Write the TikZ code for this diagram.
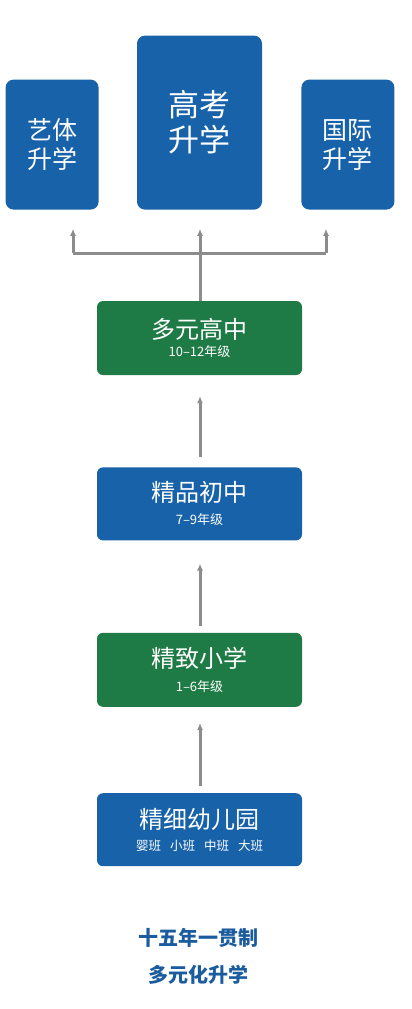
\documentclass[tikz,border=0pt]{standalone}
\usepackage{fontspec}
\setmainfont{Noto Sans CJK SC}
\usetikzlibrary{positioning, arrows.meta}

\definecolor{schoolblue}{HTML}{1762A9}
\definecolor{schoolgreen}{HTML}{1E7B45}
\definecolor{linkgray}{HTML}{8C8C8C}
\definecolor{titleblue}{HTML}{1B5C9E}

\begin{document}
\begin{tikzpicture}[
        x=1pt, y=-1pt,
        node distance=92pt,
        stage/.style={
          align=center, text=white, rounded corners=6pt, inner sep=0pt, minimum width=205pt, minimum height=74pt
        },
        goal/.style={
          align=center, text=white, fill=schoolblue, rounded corners=8pt, inner sep=0pt, minimum width=93pt, minimum height=130pt,
          font=\fontsize{25}{29}\selectfont
        },
        link/.style={
          draw=linkgray, line width=3pt
        },
        >={Latex[length=7pt,width=6pt]},
      ]
        \useasboundingbox (0,0) rectangle (412,1009);

        % stages
        \node [stage, fill=schoolgreen] (high) at (199.5,338) {{\fontsize{24}{26}\selectfont 多元高中}\\[4pt]{\fontsize{13}{15}\selectfont 10–12年级}};
        \node [stage, fill=schoolblue, minimum height=73pt, below=of high] (middle) {{\fontsize{24}{26}\selectfont 精品初中}\\[9pt]{\fontsize{13}{15}\selectfont 7–9年级}};
        \node [stage, fill=schoolgreen, below=of middle] (primary) {{\fontsize{24}{26}\selectfont 精致小学}\\[10pt]{\fontsize{13}{15}\selectfont 1–6年级}};
        \node [stage, fill=schoolblue, minimum height=73pt, below=86pt of primary] (kinder) {{\fontsize{24}{26}\selectfont 精细幼儿园}\\[8pt]{\fontsize{12.5}{14}\selectfont 婴班\hspace{9pt}小班\hspace{9pt}中班\hspace{9pt}大班}};

        % goals
        \node [goal, minimum width=125pt, minimum height=174pt, above=91pt of high, font=\fontsize{31}{35}\selectfont] (gaokao) {高考\\升学};
        \node [goal, left=38pt of gaokao.south west, anchor=south east] (art) {艺体\\升学};
        \node [goal, right=39pt of gaokao.south east, anchor=south west] (intl) {国际\\升学};

        % branch
        \coordinate (split) at (200,253);
        \coordinate (split_left) at (73,253);
        \coordinate (split_right) at (326,253);
        \draw [link] (high.north -| split) -- (split);
        \draw [link] (split_left) -- (split_right);
        \draw [link, ->] (split_left) -- ([yshift=-19pt]art.south -| split_left);
        \draw [link, ->] (split) -- ([yshift=-19pt]gaokao.south -| split);
        \draw [link, ->] (split_right) -- ([yshift=-19pt]intl.south -| split_right);

        % arrows
        \draw [link, ->, shorten <=10pt, shorten >=21pt] (middle.north -| split) -- (high.south -| split);
        \draw [link, ->, shorten <=7pt, shorten >=23pt] (primary.north -| split) -- (middle.south -| split);
        \draw [link, ->, shorten <=7pt, shorten >=16pt] (kinder.north -| split) -- (primary.south -| split);

        % title
        \node [text=titleblue, font=\fontsize{20}{24}\selectfont\bfseries] (title) at (198,938) {十五年一贯制};
        \node [text=titleblue, font=\fontsize{20}{24}\selectfont\bfseries, below=11pt of title] (subtitle) {多元化升学};

      \end{tikzpicture}
\end{document}
